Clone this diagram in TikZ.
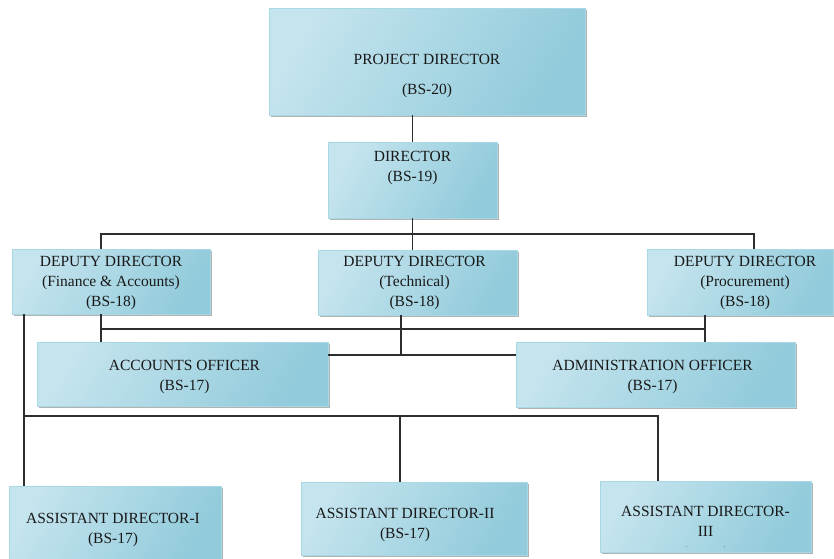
\documentclass[tikz,border=0pt]{standalone}
\usepackage{fontspec}
\setmainfont{Liberation Serif}
\usetikzlibrary{shadows,calc}
\definecolor{bxlight}{HTML}{E2F1F6}
\definecolor{bxmid}{HTML}{C4E4EE}
\definecolor{bxdark}{HTML}{92CBDB}
\definecolor{bxedge}{HTML}{A9D8E5}
\definecolor{ln}{HTML}{2E2E2E}
\tikzset{
  orgbox/.style={rectangle, draw=bxedge, line width=0.8pt,
    left color=bxmid, middle color=bxlight, right color=bxdark, shading angle=60,
    drop shadow={shadow xshift=2.2pt, shadow yshift=-2.2pt, fill=black!55, opacity=0.55},
    inner sep=0pt},
  orgtext/.style={align=center, font=\fontsize{15.5}{20}\selectfont, text=black!90, inner sep=0pt},
  conn/.style={draw=ln, line width=1.2pt},
}
\begin{document}
\begin{tikzpicture}[x=1pt, y=-1pt]
\useasboundingbox (0,0) rectangle (834,558);
% boxes
\node[orgbox, minimum width=316, minimum height=107] (pd) at (427,61.5) {};
\node[orgbox, minimum width=169, minimum height=76] (dir) at (412.5,180) {};
\node[orgbox, minimum width=198, minimum height=65] (dd1) at (111,281.5) {};
\node[orgbox, minimum width=199, minimum height=65] (dd2) at (417.5,282.5) {};
\node[orgbox, minimum width=186, minimum height=66] (dd3) at (740,282) {};
\node[orgbox, minimum width=291, minimum height=64] (ao) at (182.5,374) {};
\node[orgbox, minimum width=279, minimum height=65] (ado) at (655.5,374.5) {};
\node[orgbox, minimum width=212, minimum height=74] (ad1) at (115,523) {};
\node[orgbox, minimum width=226, minimum height=73] (ad2) at (414,518.5) {};
\node[orgbox, minimum width=211, minimum height=71] (ad3) at (705.5,516.5) {};
% texts
\node[orgtext] (pdt) at ($(pd.center)+(0,15)$) {PROJECT DIRECTOR\\[10pt](BS-20)};
\node[orgtext] (dirt) at ($(dir.center)+(0,-12)$) {DIRECTOR\\(BS-19)};
\node[orgtext] (dd1t) at ($(dd1.center)+(0,2)$) {DEPUTY DIRECTOR\\(Finance \& Accounts)\\(BS-18)};
\node[orgtext] (dd2t) at ($(dd2.center)+(-3,1)$) {DEPUTY DIRECTOR\\(Technical)\\(BS-18)};
\node[orgtext] (dd3t) at ($(dd3.center)+(5,1)$) {DEPUTY DIRECTOR\\(Procurement)\\(BS-18)};
\node[orgtext] (aot) at ($(ao.center)+(2,3)$) {ACCOUNTS OFFICER\\(BS-17)};
\node[orgtext] (adot) at ($(ado.center)+(-3,3)$) {ADMINISTRATION OFFICER\\(BS-17)};
\node[orgtext] (ad1t) at ($(ad1.center)+(-2,7)$) {ASSISTANT DIRECTOR-I\\(BS-17)};
\node[orgtext] (ad2t) at ($(ad2.center)+(-9,7)$) {ASSISTANT DIRECTOR-II\\(BS-17)};
\node[orgtext] (ad3t) at ($(ad3.center)+(0,10)$) {ASSISTANT DIRECTOR-\\III\\[-9pt]{\fontsize{6}{6}\selectfont .\hspace{36pt}.}};
% bus coordinates
\coordinate (h1L) at (101,234);
\coordinate (h1R) at (754,234);
\coordinate (h2L) at (101,329);
\coordinate (h2R) at (705,329);
\coordinate (m2) at (401,355);
\coordinate (h3L) at (24,416);
\coordinate (h3M) at (400,416);
\coordinate (h3R) at (658,416);
% connectors
\draw[conn] (dir.north) -- (dir.north |- pd.south);
\draw[conn] (dir.south) -- (dir.south |- dd2.north);
\draw[conn] (h1L |- dd1.north) -- (h1L) -- (h1R) -- (h1R |- dd3.north);
\draw[conn] (h2L |- dd1.south) -- (h2L |- ao.north);
\draw[conn] (h2L) -- (h2R);
\draw[conn] (h2R |- dd3.south) -- (h2R |- ado.north);
\draw[conn] (m2 |- dd2.south) -- (m2);
\draw[conn] (ao.east |- m2) -- (ado.west |- m2);
\draw[conn] (h3L |- dd1.south) -- (h3L |- ad1.north);
\draw[conn] (h3L) -- (h3R) -- (h3R |- ad3.north);
\draw[conn] (h3M) -- (h3M |- ad2.north);
\end{tikzpicture}
\end{document}
